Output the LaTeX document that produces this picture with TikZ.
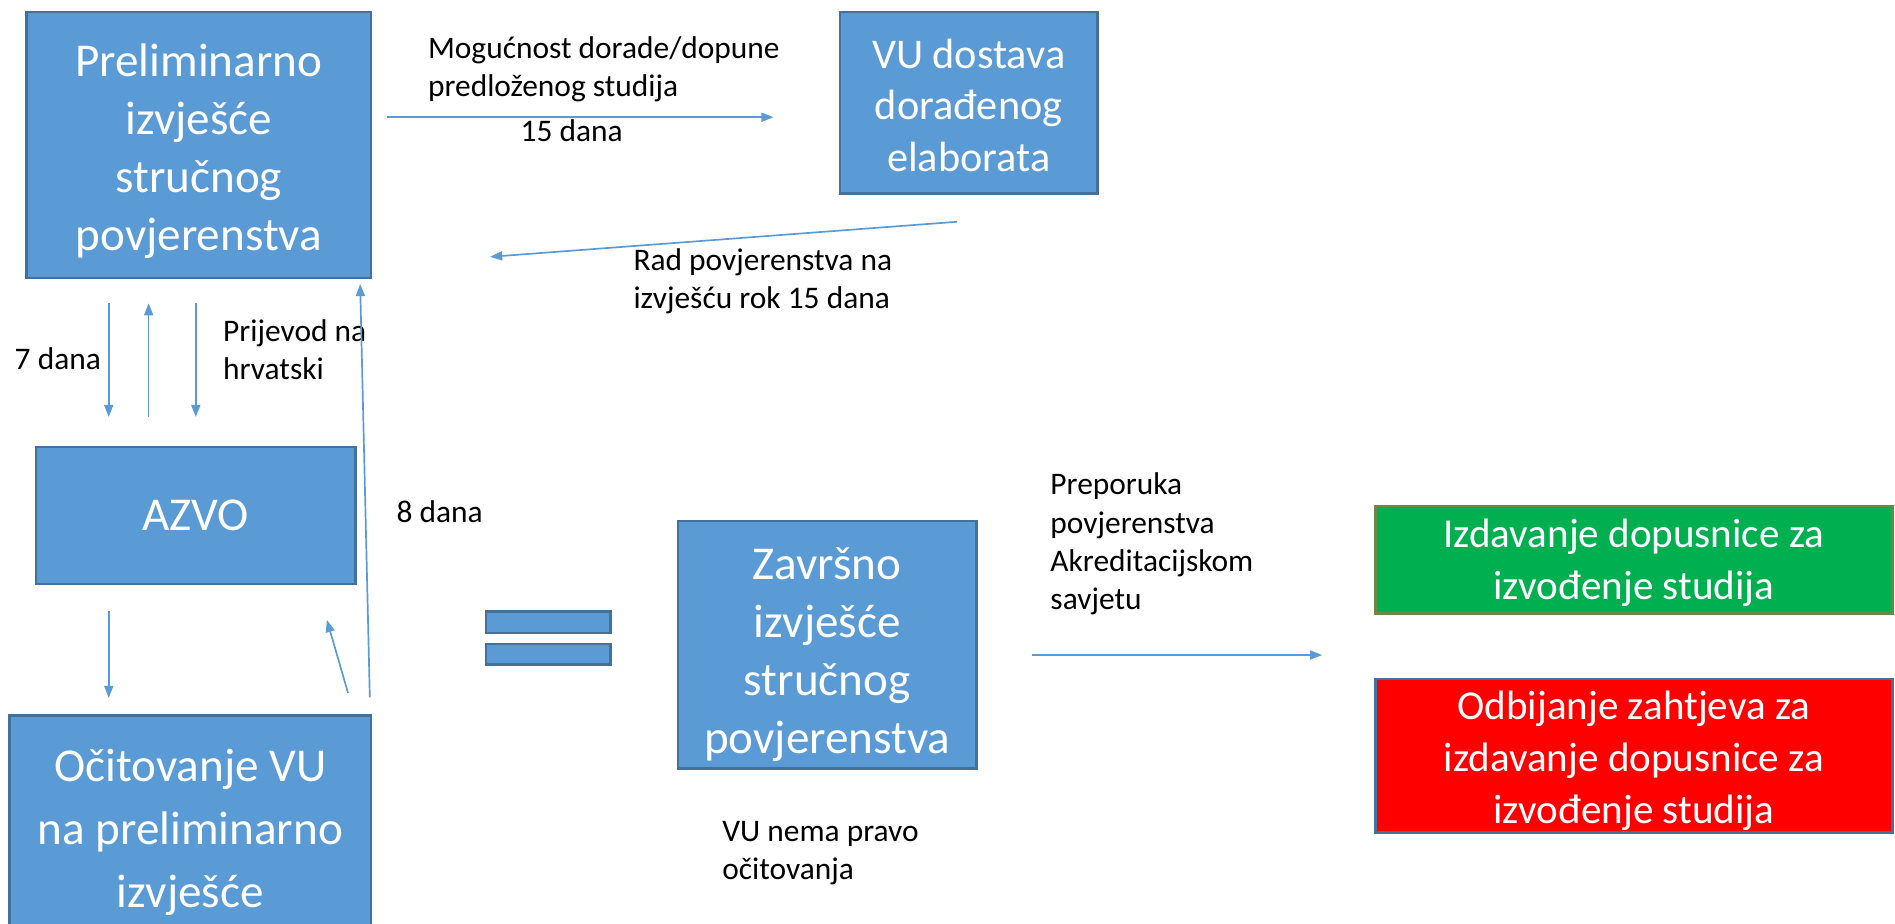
\documentclass[tikz,border=0pt]{standalone}
\usepackage{fontspec}
\setmainfont{Carlito}
\usetikzlibrary{arrows.meta}
\definecolor{boxblue}{HTML}{5B9BD5}
\definecolor{boxedge}{HTML}{41719C}
\definecolor{okgreen}{HTML}{00B050}
\definecolor{okedge}{HTML}{6A8A43}
\definecolor{nored}{HTML}{FF0000}
\tikzset{
  bluebox/.style={draw=boxedge, line width=2pt, fill=boxblue, inner sep=0pt},
  boxtext/.style={text=white, align=center, inner sep=0pt, font=\fontsize{39}{48}\selectfont},
  restext/.style={text=white, align=center, inner sep=0pt, font=\fontsize{34}{43}\selectfont},
  resbox/.style={line width=2pt, inner sep=0pt, minimum width=428pt},
  flow/.style={draw=boxblue, line width=1.4pt, -{Triangle[length=10pt,width=7.5pt]}},
  lbl/.style={font=\fontsize{26}{31.5}\selectfont, align=left, inner sep=0pt, anchor=west},
}
\begin{document}
\begin{tikzpicture}[x=1pt,y=-1pt]
\useasboundingbox (0,0) rectangle (1568,764.5);
% boxes
\node[bluebox, minimum width=285pt, minimum height=220pt,
  label={[boxtext, yshift=-5pt]center:{Preliminarno\\izvješće\\stručnog\\povjerenstva}}] (prelim) at (164.5,120) {};
\node[bluebox, minimum width=213pt, minimum height=150pt,
  label={[boxtext, font=\fontsize{35}{42.5}\selectfont, yshift=-2pt]center:{VU dostava\\dorađenog\\elaborata}}] (vu) at (801.5,85) {};
\node[bluebox, minimum width=264pt, minimum height=113pt,
  label={[boxtext]center:{AZVO}}] (azvo) at (162,426.5) {};
\node[bluebox, minimum width=299pt, minimum height=183pt,
  label={[boxtext, font=\fontsize{39}{52}\selectfont, yshift=-5pt]center:{Očitovanje VU\\na preliminarno\\izvješće}}] (ocit) at (157.5,683.5) {};
\node[bluebox, minimum width=247pt, minimum height=205pt,
  label={[boxtext, yshift=-8pt]center:{Završno\\izvješće\\stručnog\\povjerenstva}}] (zavrs) at (684.5,533.5) {};
\node[bluebox, minimum width=103pt, minimum height=18pt] (eqa) at (453.5,515) {};
\node[bluebox, minimum width=103pt, minimum height=17pt] (eqb) at (453.5,541.5) {};
\node[resbox, draw=okedge, fill=okgreen, minimum height=89pt,
  label={[restext, yshift=-3pt]center:{Izdavanje dopusnice za\\izvođenje studija}}] (odob) at (1352,463) {};
\node[resbox, draw=boxedge, fill=nored, minimum height=127pt,
  label={[restext, yshift=-4pt]center:{Odbijanje zahtjeva za\\izdavanje dopusnice za\\izvođenje studija}}] (odbi) at (1352,625.5) {};
% labels
\node[lbl] (l1) at (354,57) {Mogućnost dorade/dopune\\predloženog studija};
\node[lbl, anchor=center] (l2) at (473,108) {15 dana};
\node[lbl] (l3) at (524,232.5) {Rad povjerenstva na\\izvješću rok 15 dana};
\node[lbl] (l4) at (12,297) {7 dana};
\node[lbl] (l5) at (184.5,289.5) {Prijevod na\\hrvatski};
\node[lbl] (l6) at (328,423.5) {8 dana};
\node[lbl] (l7) at (869,450) {Preporuka\\povjerenstva\\Akreditacijskom\\savjetu};
\node[lbl] (l8) at (597.5,706) {VU nema pravo\\očitovanja};
% connector end points
\coordinate (a1) at (320,97);    \coordinate (a2) at (640,97);
\coordinate (b1) at (792,183.5); \coordinate (b2) at (405.5,212.5);
\coordinate (c1) at (90,251);    \coordinate (c2) at (90,345);
\coordinate (d1) at (123,345);   \coordinate (d2) at (123,251);
\coordinate (e1) at (162,251);   \coordinate (e2) at (162,345);
\coordinate (f1) at (90,505.5);  \coordinate (f2) at (90,577.5);
\coordinate (g1) at (288,573.5); \coordinate (g2) at (270.5,513);
\coordinate (h1) at (306,577);   \coordinate (h2) at (298,235);
\coordinate (k1) at (854,542);   \coordinate (k2) at (1094,542);
% connectors
\draw[flow] (a1) -- (a2);
\draw[flow] (b1) -- (b2);
\draw[flow] (c1) -- (c2);
\draw[flow] (d1) -- (d2);
\draw[flow] (e1) -- (e2);
\draw[flow] (f1) -- (f2);
\draw[flow] (g1) -- (g2);
\draw[flow] (h1) -- (h2);
\draw[flow] (k1) -- (k2);
\end{tikzpicture}
\end{document}
